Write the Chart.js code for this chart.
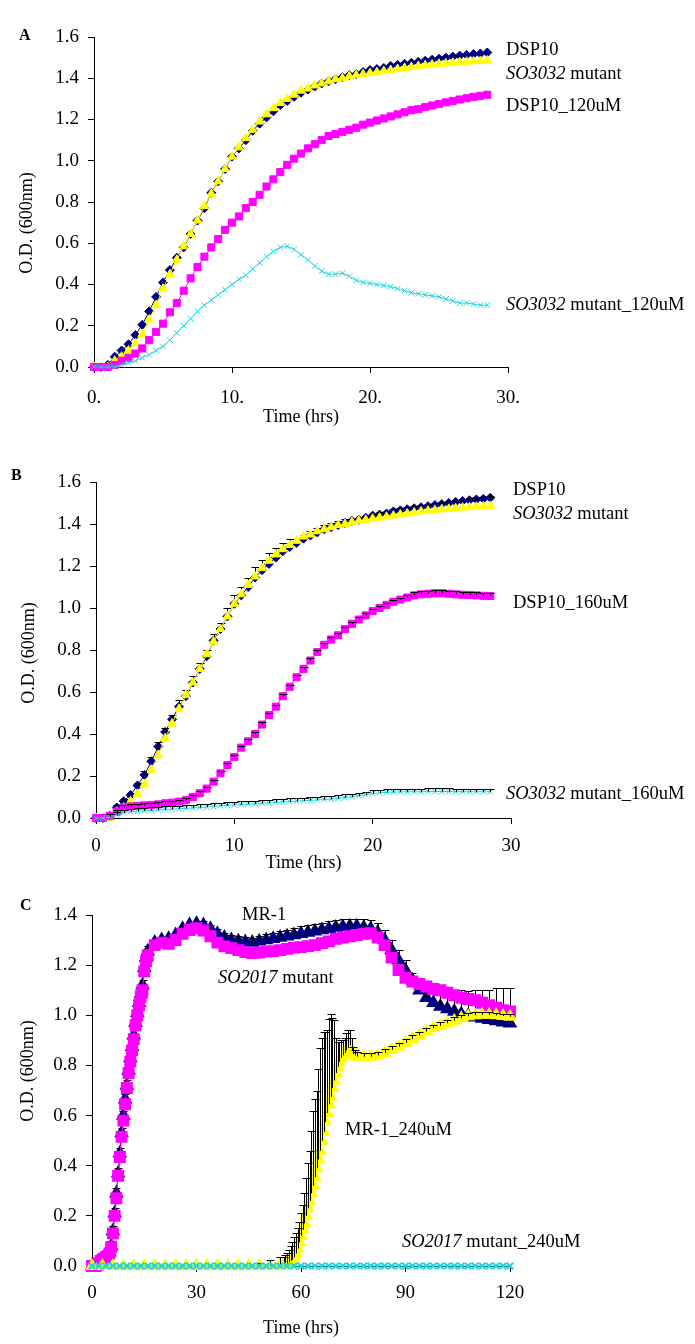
<!DOCTYPE html>
<html>
<head>
<meta charset="utf-8">
<title>Growth curves</title>
<script src="https://cdn.jsdelivr.net/npm/chart.js@4.4.1/dist/chart.umd.min.js"></script>
<style>
  html, body { margin: 0; padding: 0; background: #fff; }
  #page { position: relative; width: 695px; height: 1344px; overflow: hidden; font-family: 'Liberation Serif', 'Times New Roman', serif; color: #000; }
  canvas { position: absolute; left: 0; }
  .lbl { position: absolute; font-size: 18.5px; line-height: 18.5px; white-space: nowrap; }
  .ytitle { position: absolute; font-size: 18px; line-height: 18px; white-space: nowrap; transform: translate(-50%, -50%) rotate(-90deg); }
  .panel { position: absolute; font-size: 16px; line-height: 16px; font-weight: bold; }
</style>
</head>
<body>
<div id="page">
  <canvas id="chart-a" width="540" height="410" style="top:20px"></canvas>
  <canvas id="chart-b" width="540" height="425" style="top:455px"></canvas>
  <canvas id="chart-c" width="540" height="464" style="top:880px"></canvas>

  <div class="panel" style="left:19px;top:27px">A</div>
  <div class="panel" style="left:11px;top:467px">B</div>
  <div class="panel" style="left:20px;top:897px">C</div>

  <div class="ytitle" style="left:26px;top:223px">O.D. (600nm)</div>
  <div class="ytitle" style="left:28px;top:653px">O.D. (600nm)</div>
  <div class="ytitle" style="left:27px;top:1071px">O.D. (600nm)</div>

  <div class="lbl" style="left:506px;top:40px">DSP10</div>
  <div class="lbl" style="left:506px;top:64px"><i>SO3032</i> mutant</div>
  <div class="lbl" style="left:506px;top:96px">DSP10_120uM</div>
  <div class="lbl" style="left:506px;top:295px"><i>SO3032</i> mutant_120uM</div>

  <div class="lbl" style="left:513px;top:480px">DSP10</div>
  <div class="lbl" style="left:513px;top:504px"><i>SO3032</i> mutant</div>
  <div class="lbl" style="left:513px;top:593px">DSP10_160uM</div>
  <div class="lbl" style="left:506px;top:784px"><i>SO3032</i> mutant_160uM</div>

  <div class="lbl" style="left:242px;top:905px">MR-1</div>
  <div class="lbl" style="left:218px;top:968px"><i>SO2017</i> mutant</div>
  <div class="lbl" style="left:345px;top:1120px">MR-1_240uM</div>
  <div class="lbl" style="left:402px;top:1232px"><i>SO2017</i> mutant_240uM</div>
</div>
<script>
(function () {
  // time points (hrs), panels A and B
  const tAB = [0, 0.5, 1, 1.5, 2, 2.5, 3, 3.5, 4, 4.5, 5, 5.5, 6, 6.5, 7, 7.5, 8, 8.5, 9, 9.5,
    10, 10.5, 11, 11.5, 12, 12.5, 13, 13.5, 14, 14.5, 15, 15.5, 16, 16.5, 17, 17.5, 18, 18.5, 19, 19.5,
    20, 20.5, 21, 21.5, 22, 22.5, 23, 23.5, 24, 24.5, 25, 25.5, 26, 26.5, 27, 27.5, 28, 28.5];

  const dsp10 = [0.00, 0.00, 0.01, 0.05, 0.08, 0.11, 0.155, 0.205, 0.27, 0.34,
    0.41, 0.47, 0.53, 0.58, 0.645, 0.71, 0.77, 0.845, 0.90, 0.96,
    1.02, 1.06, 1.10, 1.145, 1.18, 1.21, 1.24, 1.27, 1.29, 1.31,
    1.33, 1.345, 1.36, 1.375, 1.385, 1.395, 1.405, 1.415, 1.42, 1.43,
    1.44, 1.445, 1.45, 1.46, 1.465, 1.47, 1.475, 1.48, 1.485, 1.49,
    1.495, 1.50, 1.505, 1.51, 1.513, 1.517, 1.52, 1.525];
  const so3032 = [0.00, 0.00, 0.00, 0.03, 0.05, 0.08, 0.115, 0.16, 0.23, 0.30,
    0.38, 0.45, 0.52, 0.585, 0.645, 0.71, 0.78, 0.84, 0.90, 0.96,
    1.02, 1.065, 1.11, 1.15, 1.19, 1.225, 1.255, 1.28, 1.30, 1.32,
    1.34, 1.35, 1.365, 1.375, 1.385, 1.395, 1.40, 1.41, 1.415, 1.42,
    1.425, 1.43, 1.435, 1.44, 1.445, 1.45, 1.455, 1.46, 1.463, 1.466,
    1.47, 1.472, 1.475, 1.478, 1.48, 1.482, 1.484, 1.486];
  const dsp10_120 = [0.00, 0.00, 0.00, 0.01, 0.03, 0.045, 0.065, 0.09, 0.13, 0.17,
    0.21, 0.265, 0.31, 0.37, 0.43, 0.485, 0.535, 0.58, 0.62, 0.665,
    0.70, 0.73, 0.77, 0.80, 0.835, 0.875, 0.91, 0.945, 0.98, 1.01,
    1.035, 1.06, 1.08, 1.10, 1.12, 1.13, 1.14, 1.15, 1.16, 1.175,
    1.185, 1.195, 1.205, 1.215, 1.225, 1.235, 1.245, 1.25, 1.26, 1.268,
    1.275, 1.283, 1.29, 1.297, 1.303, 1.31, 1.315, 1.32];
  const so3032_120 = [0.00, 0.00, 0.00, 0.00, 0.01, 0.02, 0.03, 0.045, 0.06, 0.08,
    0.10, 0.13, 0.165, 0.20, 0.235, 0.27, 0.30, 0.325, 0.35, 0.375,
    0.40, 0.425, 0.445, 0.475, 0.505, 0.535, 0.56, 0.58, 0.585, 0.57,
    0.545, 0.52, 0.49, 0.465, 0.45, 0.45, 0.455, 0.44, 0.42, 0.41,
    0.405, 0.40, 0.395, 0.39, 0.38, 0.37, 0.36, 0.355, 0.35, 0.345,
    0.34, 0.33, 0.32, 0.31, 0.31, 0.305, 0.30, 0.30];
  const dsp10_160 = [0.00, 0.00, 0.01, 0.03, 0.05, 0.055, 0.058, 0.06, 0.062, 0.065,
    0.07, 0.073, 0.078, 0.085, 0.10, 0.118, 0.14, 0.173, 0.213, 0.252,
    0.29, 0.335, 0.365, 0.40, 0.445, 0.49, 0.53, 0.58, 0.625, 0.67,
    0.71, 0.75, 0.79, 0.825, 0.85, 0.87, 0.90, 0.925, 0.945, 0.965,
    0.985, 1.00, 1.015, 1.03, 1.04, 1.05, 1.06, 1.065, 1.068, 1.07,
    1.07, 1.068, 1.065, 1.063, 1.062, 1.06, 1.058, 1.057];
  const so3032_160 = [0.00, 0.00, 0.005, 0.015, 0.025, 0.03, 0.032, 0.034, 0.036, 0.038,
    0.04, 0.042, 0.044, 0.046, 0.048, 0.05, 0.052, 0.055, 0.058, 0.06,
    0.062, 0.064, 0.066, 0.068, 0.07, 0.072, 0.074, 0.076, 0.078, 0.08,
    0.082, 0.084, 0.086, 0.088, 0.09, 0.093, 0.097, 0.101, 0.106, 0.111,
    0.116, 0.12, 0.122, 0.123, 0.124, 0.125, 0.125, 0.125, 0.126, 0.126,
    0.126, 0.126, 0.125, 0.125, 0.125, 0.125, 0.125, 0.125];

  // upward error bars, panel B
  const errDsp10B = [0, 0, 0, 0.01, 0.01, 0.01, 0.01, 0.02, 0.02, 0.02,
    0.02, 0.02, 0.03, 0.03, 0.03, 0.03, 0.03, 0.03, 0.03, 0.04,
    0.04, 0.04, 0.045, 0.05, 0.05, 0.05, 0.045, 0.04, 0.04, 0.02,
    0.02, 0.02, 0.02, 0.02, 0.02, 0.02, 0.02, 0.01, 0.01, 0.01,
    0.01, 0.01, 0.01, 0.01, 0.01, 0.01, 0.01, 0.01, 0.01, 0.01,
    0.01, 0.01, 0.01, 0.01, 0.01, 0.01, 0.01, 0.01];
  const errDsp160B = [0, 0, 0, 0.01, 0.01, 0.01, 0.01, 0.01, 0.01, 0.01,
    0.01, 0.01, 0.01, 0.01, 0.01, 0.01, 0.01, 0.01, 0.01, 0.01,
    0.01, 0.01, 0.01, 0.01, 0.01, 0.01, 0.01, 0.01, 0.01, 0.01,
    0.01, 0.01, 0.01, 0.01, 0.01, 0.01, 0.01, 0.01, 0.01, 0.01,
    0.01, 0.01, 0.01, 0.01, 0.01, 0.01, 0.015, 0.015, 0.015, 0.015,
    0.015, 0.015, 0.015, 0.015, 0.015, 0.015, 0.015, 0.015];
  const errSo160B = [0, 0, 0.015, 0.015, 0.015, 0.015, 0.015, 0.015, 0.015, 0.015,
    0.015, 0.015, 0.015, 0.015, 0.015, 0.015, 0.015, 0.015, 0.015, 0.015,
    0.015, 0.015, 0.015, 0.015, 0.015, 0.015, 0.015, 0.015, 0.015, 0.015,
    0.015, 0.015, 0.015, 0.015, 0.015, 0.015, 0.015, 0.015, 0.015, 0.015,
    0.015, 0.015, 0.015, 0.015, 0.015, 0.015, 0.015, 0.015, 0.015, 0.015,
    0.015, 0.015, 0.015, 0.015, 0.015, 0.015, 0.015, 0.015];

  // panel C: MR-1 and SO2017 mutant
  const tC1 = [0, 0.5, 1, 1.5, 2, 2.5, 3, 3.5, 4, 4.5, 5, 5.5, 6, 6.5, 7, 7.5, 8, 8.5, 9, 9.5,
    10, 10.5, 11, 11.5, 12, 12.5, 13, 13.5, 14, 14.5, 15, 15.5, 16,
    18, 20, 22, 24, 26, 28, 30, 32, 34, 36, 38, 40, 42, 44, 46, 48, 50, 52, 54, 56,
    58, 60, 62, 64, 66, 68, 70, 72, 74, 76, 78, 80, 82, 84, 86, 88, 90, 92, 94, 96,
    98, 100, 102, 104, 106, 108, 110, 112, 114, 116, 118, 120];
  const mr1 = [0.00, 0.00, 0.00, 0.005, 0.01, 0.02, 0.025, 0.03, 0.035, 0.045,
    0.055, 0.08, 0.14, 0.21, 0.29, 0.37, 0.45, 0.53, 0.60, 0.665,
    0.72, 0.78, 0.83, 0.875, 0.92, 0.97, 1.01, 1.05, 1.085, 1.12,
    1.19, 1.23, 1.255,
    1.29, 1.30, 1.305, 1.32, 1.345, 1.36, 1.365, 1.36, 1.345, 1.325,
    1.31, 1.30, 1.295, 1.292, 1.29, 1.295, 1.30, 1.305, 1.31, 1.315,
    1.32, 1.325, 1.33, 1.335, 1.34, 1.345, 1.35, 1.353, 1.355, 1.355,
    1.35, 1.345, 1.33, 1.30, 1.26, 1.22, 1.18, 1.14, 1.10, 1.07,
    1.05, 1.035, 1.025, 1.015, 1.005, 0.998, 0.992, 0.987, 0.982, 0.977,
    0.972, 0.968];
  const so2017 = [0.00, 0.00, 0.00, 0.005, 0.01, 0.02, 0.025, 0.03, 0.035, 0.04,
    0.05, 0.075, 0.13, 0.20, 0.27, 0.36, 0.435, 0.515, 0.58, 0.645,
    0.71, 0.77, 0.815, 0.86, 0.905, 0.96, 1.00, 1.04, 1.075, 1.10,
    1.175, 1.215, 1.24,
    1.28, 1.29, 1.285, 1.30, 1.325, 1.34, 1.347, 1.338, 1.315, 1.29,
    1.275, 1.268, 1.26, 1.252, 1.248, 1.25, 1.254, 1.256, 1.26, 1.265,
    1.27, 1.272, 1.276, 1.28, 1.288, 1.295, 1.305, 1.31, 1.315, 1.32,
    1.325, 1.327, 1.31, 1.28, 1.23, 1.18, 1.15, 1.135, 1.125, 1.115,
    1.105, 1.10, 1.09, 1.08, 1.07, 1.065, 1.06, 1.05, 1.04, 1.03,
    1.02, 1.015];
  const errMr1C = [0, 0, 0, 0, 0, 0.02, 0.02, 0.02, 0.02, 0.02,
    0.02, 0.02, 0.02, 0.02, 0.02, 0.02, 0.02, 0.02, 0.02, 0.02,
    0.02, 0.02, 0.02, 0.02, 0.02, 0.02, 0.02, 0.02, 0.02, 0.02,
    0.02, 0.02, 0.02,
    0.01, 0.01, 0.01, 0.01, 0.01, 0.01, 0.01, 0.015, 0.015, 0.02,
    0.02, 0.02, 0.02, 0.02, 0.02, 0.02, 0.025, 0.025, 0.025, 0.025,
    0.03, 0.03, 0.03, 0.03, 0.03, 0.03, 0.03, 0.03, 0.03, 0.03,
    0.035, 0.035, 0.04, 0.04, 0.04, 0.04, 0.04, 0.03, 0.03, 0.04,
    0.05, 0.065, 0.075, 0.085, 0.095, 0.10, 0.11, 0.115, 0.12, 0.13,
    0.135, 0.14];

  // panel C: MR-1_240uM
  const tC2 = [0, 3, 6, 9, 12, 15, 18, 21, 24, 27, 30, 33, 36, 39, 42, 45, 48, 51, 54,
    55, 55.5, 56, 56.5, 57, 57.5, 58, 58.5, 59, 59.5, 60, 60.5, 61, 61.5, 62, 62.5, 63, 63.5, 64, 64.5,
    65, 65.5, 66, 66.5, 67, 67.5, 68, 68.5, 69, 69.5, 70, 70.5, 71, 71.5, 72, 72.5, 73, 73.5, 74, 74.5,
    75, 75.5, 76,
    78, 80, 82, 84, 86, 88, 90, 92, 94, 96, 98, 100, 102, 104, 106, 108, 110, 112, 114, 116, 118, 120];
  const mr1_240 = [0, 0, 0, 0, 0, 0, 0, 0, 0, 0, 0, 0, 0, 0, 0, 0, 0, 0.002, 0.004,
    0.005, 0.008, 0.01, 0.015, 0.02, 0.025, 0.035, 0.05, 0.07, 0.095,
    0.12, 0.145, 0.17, 0.20, 0.23, 0.26, 0.29, 0.32, 0.355, 0.39,
    0.425, 0.46, 0.50, 0.535, 0.575, 0.61, 0.645, 0.675, 0.71, 0.74,
    0.77, 0.795, 0.815, 0.83, 0.84, 0.85, 0.86, 0.87, 0.88, 0.86,
    0.845, 0.84, 0.835,
    0.835, 0.835, 0.84, 0.85, 0.862, 0.875, 0.89, 0.905, 0.92, 0.935,
    0.948, 0.958, 0.968, 0.978, 0.988, 0.996, 1.00, 1.002, 1.002, 1.00,
    0.997, 0.994];
  const errMr1_240C = [0, 0, 0, 0, 0, 0, 0, 0, 0, 0, 0, 0, 0, 0, 0, 0, 0.01, 0.02, 0.03,
    0.03, 0.035, 0.04, 0.05, 0.06, 0.07, 0.08, 0.08, 0.08, 0.08,
    0.09, 0.10, 0.12, 0.15, 0.18, 0.20, 0.25, 0.30, 0.31, 0.31,
    0.36, 0.41, 0.41, 0.40, 0.36, 0.33, 0.34, 0.33, 0.28, 0.24,
    0.14, 0.10, 0.08, 0.07, 0.06, 0.06, 0.07, 0.07, 0.06, 0.05,
    0.03, 0.02, 0.02,
    0.015, 0.015, 0.015, 0.015, 0.015, 0.015, 0.015, 0.015, 0.015, 0.015,
    0.015, 0.015, 0.015, 0.015, 0.015, 0.015, 0.015, 0.01, 0.01, 0.01,
    0.01, 0.01];

  // panel C: SO2017 mutant_240uM
  const tC3 = [0, 2, 4, 6, 8, 10, 12, 14, 16, 18, 20, 22, 24, 26, 28, 30, 32, 34, 36, 38,
    40, 42, 44, 46, 48, 50, 52, 54, 56, 58, 60, 62, 64, 66, 68, 70, 72, 74, 76, 78,
    80, 82, 84, 86, 88, 90, 92, 94, 96, 98, 100, 102, 104, 106, 108, 110, 112, 114, 116, 118, 120];
  const so2017_240 = [0, 0, 0, 0, 0, 0, 0, 0, 0, 0, 0, 0, 0, 0, 0, 0, 0, 0, 0, 0,
    0, 0, 0, 0, 0, 0, 0, 0, 0, 0, 0, 0, 0, 0, 0, 0, 0, 0, 0, 0,
    0, 0, 0, 0, 0, 0, 0, 0, 0, 0, 0, 0, 0, 0, 0, 0, 0, 0, 0, 0, 0];

  // tick labels
  const xTicksA = ['0.', '10.', '20.', '30.'];
  const xTicksB = ['0', '10', '20', '30'];
  const xTicksC = ['0', '30', '60', '90', '120'];
  const yTicksAB = ['0.0', '0.2', '0.4', '0.6', '0.8', '1.0', '1.2', '1.4', '1.6'];
  const yTicksC = ['0.0', '0.2', '0.4', '0.6', '0.8', '1.0', '1.2', '1.4'];

  const NAVY = '#000080';
  const YELLOW = '#ffff00';
  const MAGENTA = '#ff00ff';
  const CYAN = '#22d3de';
  const SERIF = "'Liberation Serif', 'Times New Roman', serif";

  // error bars drawn from the y scale, right after each series
  const errorBars = {
    id: 'errorBars',
    afterDatasetDraw(chart, args) {
      const ds = chart.data.datasets[args.index];
      if (!ds.errUp) return;
      const yScale = chart.scales.y;
      const ctx = chart.ctx;
      ctx.save();
      ctx.strokeStyle = '#000';
      ctx.lineWidth = 1;
      ctx.beginPath();
      args.meta.data.forEach((pt, j) => {
        const e = ds.errUp[j];
        if (!e) return;
        const top = Math.round(yScale.getPixelForValue(ds.data[j].y + e)) + 0.5;
        const px = Math.round(pt.x) + 0.5;
        ctx.moveTo(px, pt.y);
        ctx.lineTo(px, top);
        ctx.moveTo(px - 4, top);
        ctx.lineTo(px + 4, top);
      });
      ctx.stroke();
      ctx.restore();
    },
  };

  function series(times, values, color, style, radius, order, err, markerLine) {
    return {
      data: times.map((t, i) => ({ x: t, y: values[i] })),
      showLine: true,
      borderColor: color,
      borderWidth: 1,
      tension: 0,
      pointStyle: style,
      pointRadius: radius,
      pointBackgroundColor: color,
      pointBorderColor: color,
      pointBorderWidth: markerLine || 1,
      clip: false,
      order: order,
      errUp: err || null,
    };
  }

  function makePanel(id, cfg) {
    return new Chart(document.getElementById(id), {
      type: 'scatter',
      data: { datasets: cfg.datasets },
      options: {
        responsive: false,
        animation: false,
        events: [],
        layout: { padding: cfg.padding },
        plugins: { legend: { display: false }, tooltip: { enabled: false } },
        scales: {
          x: {
            type: 'linear',
            min: cfg.xRange[0],
            max: cfg.xRange[1],
            grid: { drawOnChartArea: false, drawTicks: true, tickLength: 6, color: '#000' },
            border: { display: true, color: '#000', width: 1 },
            ticks: {
              stepSize: cfg.xStep,
              autoSkip: false,
              maxRotation: 0,
              color: '#000',
              font: { family: SERIF, size: 19 },
              padding: cfg.xPad,
              callback: (v, i) => cfg.xLabels[i],
            },
            title: {
              display: true,
              text: 'Time (hrs)',
              color: '#000',
              font: { family: SERIF, size: 18 },
              padding: { top: 0, bottom: cfg.titlePad },
            },
            afterFit: (s) => { s.height = cfg.xHeight; s.paddingLeft = 0; s.paddingRight = 0; },
          },
          y: {
            type: 'linear',
            min: 0,
            max: cfg.yMax,
            grid: { drawOnChartArea: false, drawTicks: true, tickLength: 6, color: '#000' },
            border: { display: true, color: '#000', width: 1 },
            ticks: {
              stepSize: 0.2,
              autoSkip: false,
              color: '#000',
              font: { family: SERIF, size: 19 },
              padding: 9,
              callback: (v, i) => cfg.yLabels[i],
            },
            afterFit: (s) => { s.width = cfg.yWidth; s.paddingTop = 0; s.paddingBottom = 0; },
          },
        },
      },
      plugins: [errorBars],
    });
  }

  makePanel('chart-a', {
    padding: { left: 8, right: 32, top: 17, bottom: 0 },
    yWidth: 86, xHeight: 63, xPad: 13.6, titlePad: 2.2,
    xRange: [0, 30], xStep: 10, yMax: 1.6,
    xLabels: xTicksA, yLabels: yTicksAB,
    datasets: [
      series(tAB, dsp10, NAVY, 'rectRot', 4.5, 3),
      series(tAB, so3032, YELLOW, 'triangle', 5, 2),
      series(tAB, dsp10_120, MAGENTA, 'rect', 5, 1),
      series(tAB, so3032_120, CYAN, 'crossRot', 4, 0),
    ],
  });

  makePanel('chart-b', {
    padding: { left: 8, right: 29, top: 27, bottom: 0 },
    yWidth: 88, xHeight: 62, xPad: 10.6, titlePad: 6.2,
    xRange: [0, 30], xStep: 10, yMax: 1.6,
    xLabels: xTicksB, yLabels: yTicksAB,
    datasets: [
      series(tAB, dsp10, NAVY, 'rectRot', 4.5, 3, errDsp10B),
      series(tAB, so3032, YELLOW, 'triangle', 5, 2),
      series(tAB, dsp10_160, MAGENTA, 'rect', 5, 1, errDsp160B),
      series(tAB, so3032_160, CYAN, 'crossRot', 4, 0, errSo160B),
    ],
  });

  makePanel('chart-c', {
    padding: { left: 8, right: 30, top: 35, bottom: 0 },
    yWidth: 84, xHeight: 78, xPad: 9.6, titlePad: 5.2,
    xRange: [0, 120], xStep: 30, yMax: 1.4,
    xLabels: xTicksC, yLabels: yTicksC,
    datasets: [
      series(tC1, mr1, NAVY, 'triangle', 6.5, 3, errMr1C, 2),
      series(tC1, so2017, MAGENTA, 'rect', 7, 2, null, 2),
      series(tC2, mr1_240, YELLOW, 'triangle', 6, 1, errMr1_240C, 2),
      series(tC3, so2017_240, CYAN, 'crossRot', 4.5, 0, null, 2),
    ],
  });
})();
</script>
</body>
</html>
